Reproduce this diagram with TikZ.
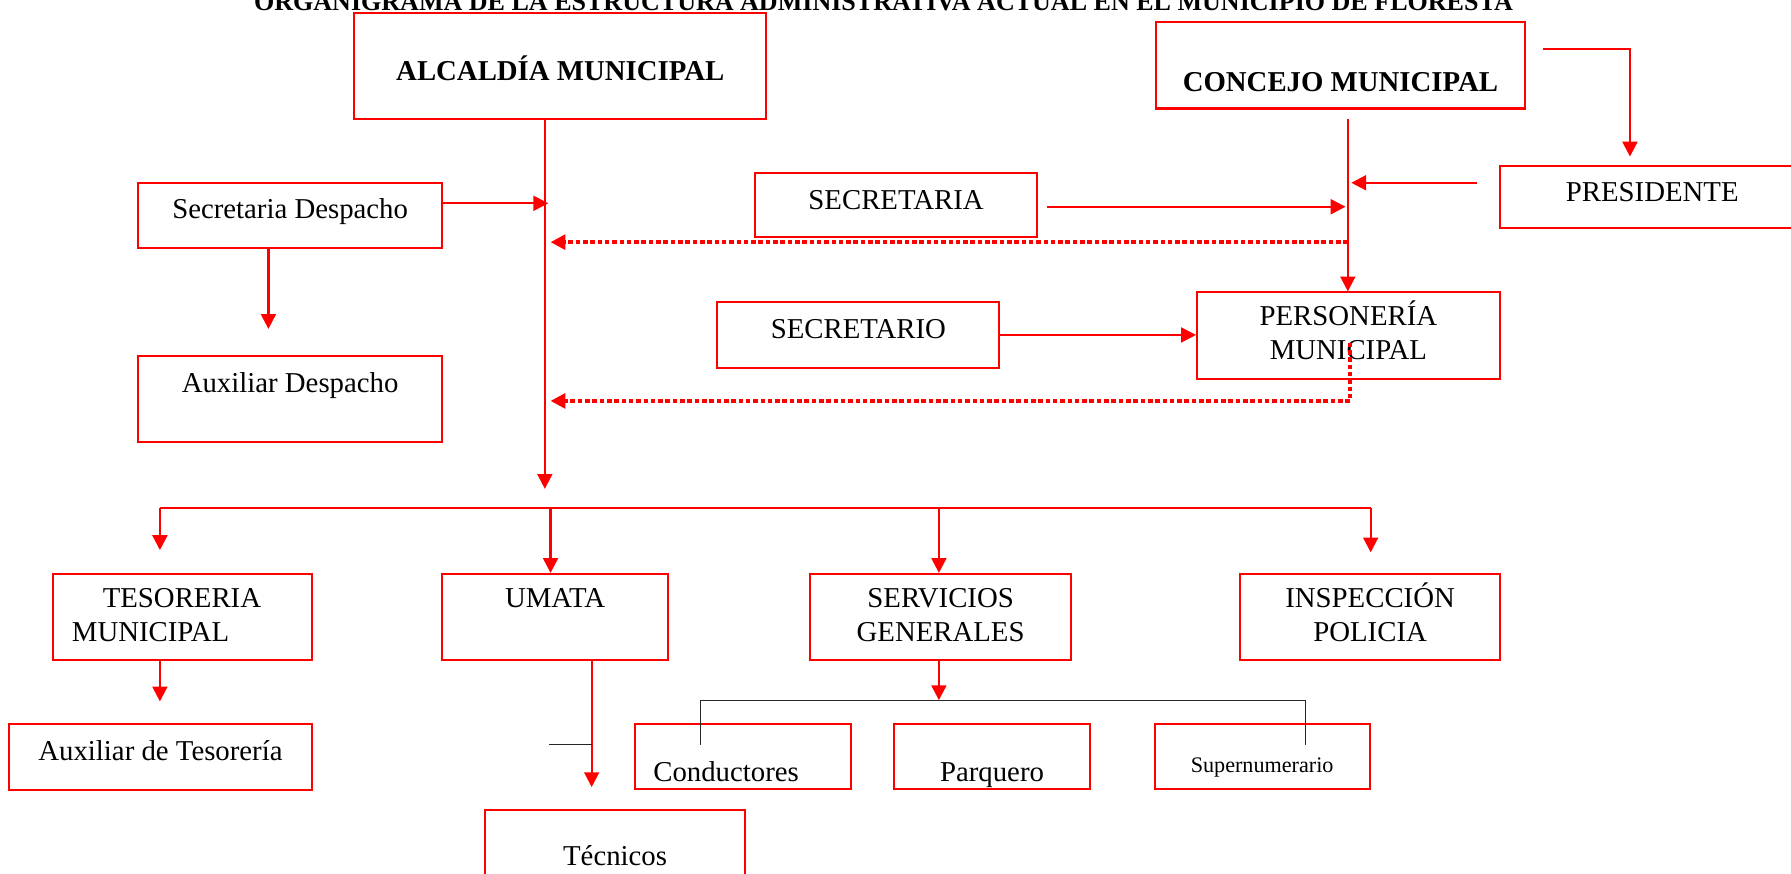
\documentclass[tikz,border=0pt]{standalone}
\usepackage{fontspec}
\setmainfont{Liberation Serif}
\usetikzlibrary{arrows.meta}
\newcommand{\orgunit}[5][]{\node at (#2) (#3) [unit, minimum width=#4, #1] {#5};}
\tikzset{
  unit/.style={draw=red, line width=0.9pt, inner sep=0pt, anchor=base, align=center},
  link/.style={draw=red, line width=1pt, -{Triangle[length=6.5pt,width=6.5pt]}},
  staff/.style={draw=red, line width=1.5pt, dash pattern=on 2pt off 1.2pt, -{Triangle[length=6.5pt,width=6.5pt]}},
  tie/.style={draw=black!85, line width=0.5pt},
}
\begin{document}
\fontsize{12.6}{15}\selectfont
\begin{tikzpicture}[x=0.5pt, y=-0.5pt]
\useasboundingbox (0,0) rectangle (1568,765);

\node at (773.5,9) (titulo) [anchor=base, font=\bfseries\fontsize{11.4}{13}\selectfont] {ORGANIGRAMA DE LA ESTRUCTURA ADMINISTRATIVA ACTUAL EN EL MUNICIPIO DE FLORESTA};

\orgunit[text height=29.75pt, text depth=16.75pt, font=\bfseries] {490.5,70.5} {alcaldia} {180.5pt} {ALCALDÍA MUNICIPAL};
\orgunit[text height=30.5pt, text depth=7.5pt, font=\bfseries] {1173.5,80} {concejo} {161.5pt} {CONCEJO MUNICIPAL};
\orgunit[text height=15.75pt, text depth=11.75pt] {1446.5,176.5} {presidente} {133.5pt} {PRESIDENTE};
\orgunit[text height=15.5pt, text depth=13pt] {254,191} {secdesp} {133pt} {Secretaria Despacho};
\orgunit[text height=16pt, text depth=21.5pt] {254,344} {auxdesp} {133pt} {Auxiliar Despacho};
\orgunit[text height=15.75pt, text depth=12.25pt] {784.5,183} {secretaria} {123.5pt} {SECRETARIA};
\orgunit[text height=15.75pt, text depth=13pt] {751.5,296} {secretario} {123.5pt} {SECRETARIO};
\orgunit[text height=29.5pt, text depth=8.5pt] {1180.5,315} {personeria} {132.5pt} {PERSONERÍA\\MUNICIPAL};

\orgunit[text height=14.75pt, text depth=23pt, text width=96.5pt, inner xsep=8.5pt, align=left] {159.5,532} {tesoreria} {113.5pt} {\hspace*{13.5pt}TESORERIA\\MUNICIPAL};
\orgunit[text height=14.75pt, text depth=23pt] {486,532} {umata} {99pt} {UMATA};
\orgunit[text height=29.75pt, text depth=8pt] {823.5,562} {servicios} {114.5pt} {SERVICIOS\\GENERALES};
\orgunit[text height=29.75pt, text depth=8pt] {1199.5,562} {inspeccion} {113.5pt} {INSPECCIÓN\\POLICIA};

\orgunit[text height=16pt, text depth=13pt] {140.5,666} {auxtes} {132.5pt} {Auxiliar de Tesorería};
\orgunit[text height=25pt, text depth=3.5pt, text width=78.5pt, inner xsep=8pt, align=left] {650.5,684} {conductores} {94.5pt} {Conductores};
\orgunit[text height=25pt, text depth=3.5pt] {868.5,684} {parquero} {85.5pt} {Parquero};
\orgunit[text height=21pt, text depth=7.5pt, font=\fontsize{9.7}{11}\selectfont] {1105,676} {supernumerario} {94pt} {Supernumerario};
\orgunit[text height=24.5pt, text depth=16pt] {538.5,758} {tecnicos} {113.5pt} {Técnicos};

\coordinate (atip) at (477,428);
\coordinate (sdtip) at (480,178);
\coordinate (adtip) at (235,288);
\coordinate (ctop) at (1180,104);
\coordinate (stip) at (1178,181);
\coordinate (ptip) at (1183,160);
\coordinate (cp) at (1427,43);
\coordinate (d1) at (482,212);
\coordinate (d2top) at (1182,300);
\coordinate (d2) at (482,351);

\draw [link] (alcaldia.south -| atip) -- (atip);
\draw [link] (secdesp.east |- sdtip) -- (sdtip);
\draw [link] (secdesp.south -| adtip) -- (adtip);
\draw [link] (ctop) -- (personeria.north -| ctop);
\draw [link, shorten <=4pt] (secretaria.east |- stip) -- (stip);
\draw [link, shorten <=9.5pt] (presidente.west |- ptip) -- (ptip);
\draw [link] (secretario.east) -- (secretario.east -| personeria.west);
\draw [link, shorten <=7.5pt, shorten >=3.5pt] (concejo.east |- cp) -- (cp) -- (presidente.north -| cp);
\draw [staff] (ctop |- d1) -- (d1);
\draw [staff] (d2top) -- (d2top |- d2) -- (d2);

\coordinate (busl) at (140,445);
\coordinate (busr) at (1200,445);
\draw [red, line width=1pt] (busl) -- (busr);
\foreach \x/\n/\g in {140/tesoreria/10, 482/umata/0, 822/servicios/0, 1200/inspeccion/9} {
  \coordinate (drop) at (\x,445);
  \draw [link, shorten >=\g pt] (drop) -- (\n.north -| drop);
}

\coordinate (ut) at (518,690);
\coordinate (tick) at (481,652);
\coordinate (sb) at (822,613);
\coordinate (gl) at (613,613);
\coordinate (gr) at (1143,613);
\coordinate (gl2) at (613,652);
\coordinate (gr2) at (1143,652);

\draw [link, shorten >=9.5pt] (tesoreria.south -| busl) -- (auxtes.north -| busl);
\draw [link, shorten >=9.5pt] (umata.south -| ut) -- (tecnicos.north -| ut);
\draw [tie] (tick) -- (tick -| ut);
\draw [link] (servicios.south -| sb) -- (sb);
\draw [tie] (gl2) -- (gl) -- (gr) -- (gr2);

%\node at (1300,740) {};
\end{tikzpicture}
\end{document}
